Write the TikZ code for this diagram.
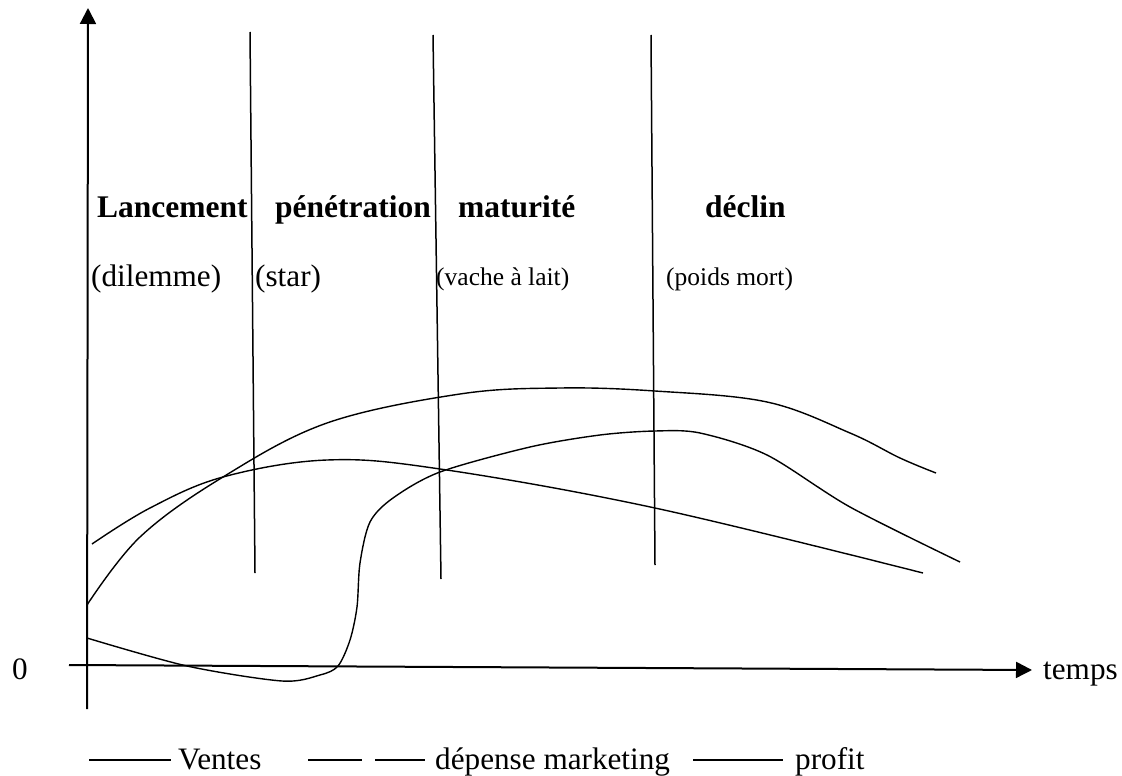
\documentclass[tikz,border=0pt]{standalone}
\usepackage{fontspec}
\setmainfont{Liberation Serif}
\usetikzlibrary{arrows.meta}
\tikzset{
  axis/.style={line width=2pt,-{Triangle[length=16pt,width=16pt]}},
  phase/.style={line width=1.5pt},
  curve/.style={line width=1.4pt,line join=round},
  legline/.style={line width=1.1pt},
  lbl/.style={inner sep=0pt,anchor=base west,font=\fontsize{31.2}{37}\selectfont},
  small/.style={lbl,font=\fontsize{25.5}{30}\selectfont},
  stage/.style={lbl,font=\fontsize{31.5}{37}\selectfont\bfseries},
}
\begin{document}
\begin{tikzpicture}[x=1pt,y=-1pt]
\useasboundingbox (0,0) rectangle (1122,776);

% axes
\coordinate (ybot) at (87,709);
\coordinate (ytop) at (88,8);
\coordinate (xleft) at (69,665);
\coordinate (xright) at (1032,670);
\draw[axis] (ybot) -- (ytop);
\draw[axis] (xleft) -- (xright);
\node[lbl] (zero) at (12,679) {0};
\node[lbl] (temps) at (1043,679) {temps};

% phase separators
\coordinate (s1t) at (250,32);  \coordinate (s1b) at (255,573);
\coordinate (s2t) at (433,35);  \coordinate (s2b) at (441,579);
\coordinate (s3t) at (651,35);  \coordinate (s3b) at (655,565);
\draw[phase] (s1t) -- (s1b);
\draw[phase] (s2t) -- (s2b);
\draw[phase] (s3t) -- (s3b);

% stage names
\node[stage] (lanc) at (97,217) {Lancement};
\node[stage] (pene) at (275,217) {pénétration};
\node[stage] (matu) at (458,217) {maturité};
\node[stage] (decl) at (705,217) {déclin};
\node[lbl] (dil) at (91,286) {(dilemme)};
\node[lbl] (star) at (255,286) {(star)};
\node[small] (vache) at (436,285) {(vache à lait)};
\node[small] (poids) at (666,285) {(poids mort)};

% curves
\draw[curve] plot[smooth,tension=0.6] coordinates {
  (87,605) (140,537) (223,477) (327,423) (460,394) (560,388) (655,391)
  (767,402) (850,433) (900,458) (936,473)};
\draw[curve] plot[smooth,tension=0.6] coordinates {
  (92,544) (150,508) (223,477) (327,460) (440,469) (655,508) (923,573)};
\draw[curve] plot[smooth,tension=0.5] coordinates {
  (87,638) (187,666) (282,681) (320,675) (338,666) (350,640) (357,607)
  (360,563) (370,522) (393,498) (440,472) (530,447) (600,435) (655,431)
  (700,433) (767,455) (850,507) (960,562)};

% legend
\coordinate (l1a) at (89,760);  \coordinate (l1b) at (171,760);
\coordinate (l2a) at (308,760); \coordinate (l2b) at (362,760);
\coordinate (l3a) at (375,760); \coordinate (l3b) at (425,760);
\coordinate (l4a) at (693,760); \coordinate (l4b) at (783,760);
\draw[legline] (l1a) -- (l1b);
\draw[legline] (l2a) -- (l2b);
\draw[legline] (l3a) -- (l3b);
\draw[legline] (l4a) -- (l4b);
\node[lbl] (ventes) at (178,769) {Ventes};
\node[lbl] (depense) at (435,769) {dépense marketing};
\node[lbl] (profit) at (795,769) {profit};
\end{tikzpicture}
\end{document}
